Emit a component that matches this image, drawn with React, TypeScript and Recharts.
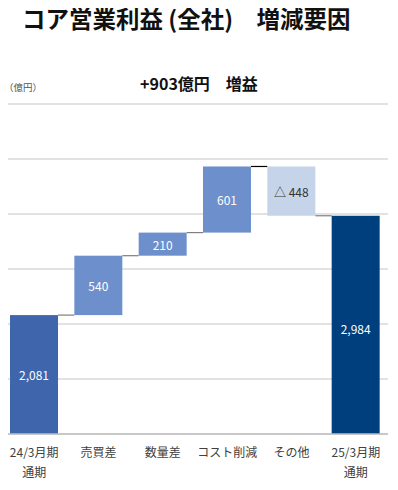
import { Bar, BarChart, CartesianGrid, LabelList, XAxis, YAxis } from 'recharts';

// Waterfall: start total, four factors, end total (億円)
const CATEGORIES = ['24/3月期\n通期', '売買差', '数量差', 'コスト削減', 'その他', '25/3月期\n通期'];
const START_TOTAL = 2081;
const DELTAS = [540, 210, 601, -448];
const END_TOTAL = 2984;
const VALUE_LABELS = ['2,081', '540', '210', '601', '△ 448', '2,984'];
const BAR_COLORS = ['#3f66ad', '#6d8fcb', '#6d8fcb', '#6d8fcb', '#c6d4ea', '#003f7d'];
const Y_TICKS = [1000, 1500, 2000, 2500, 3000, 3500, 4000];

const AXIS_MIN = Y_TICKS[0];
const AXIS_MAX = Y_TICKS[Y_TICKS.length - 1];

const CHART_W = 398;
const CHART_H = 490;
const MARGIN = { top: 104, right: 10, bottom: 16, left: 2 };
const BAR_SIZE = 48;
const BAND = (CHART_W - MARGIN.left - MARGIN.right) / CATEGORIES.length;
const GAP = BAND - BAR_SIZE;

function buildRows() {
  const rows = [];
  rows.push({ name: CATEGORIES[0], range: [AXIS_MIN, START_TOTAL], label: VALUE_LABELS[0], down: false });
  let level = START_TOTAL;
  DELTAS.forEach((d, i) => {
    const next = level + d;
    rows.push({
      name: CATEGORIES[i + 1],
      range: [Math.min(level, next), Math.max(level, next)],
      label: VALUE_LABELS[i + 1],
      down: d < 0,
    });
    level = next;
  });
  rows.push({ name: CATEGORIES[5], range: [AXIS_MIN, END_TOTAL], label: VALUE_LABELS[5], down: false });
  return rows;
}

const data = buildRows();

const font = '"Noto Sans CJK JP", "Noto Sans", sans-serif';

function WaterfallBar(props: any) {
  const { x, y, width, height, index, payload } = props;
  const top = Math.min(y, y + height);
  const h = Math.abs(height);
  const endY = payload.down ? top + h : top;
  const last = index === data.length - 1;
  return (
    <g>
      <rect x={x} y={top} width={width} height={h} fill={BAR_COLORS[index]} />
      {!last && (
        <line
          x1={x + width}
          x2={x + width + GAP}
          y1={endY}
          y2={endY}
          stroke={index === 3 ? '#000' : '#7f7f7f'}
          strokeWidth={1.2}
        />
      )}
    </g>
  );
}

function ValueLabel(props: any) {
  const { x, y, width, height, value, index } = props;
  const dark = String(value).startsWith('△');
  // totals sit a little below centre in the original
  const shift = index === data.length - 1 ? 4 : 0;
  return (
    <text
      x={x + width / 2}
      y={y + height / 2 + shift}
      textAnchor="middle"
      dominantBaseline="central"
      fontSize={12}
      fontFamily={font}
      fill={dark ? '#333' : '#fff'}
    >
      {value}
    </text>
  );
}

function CategoryTick(props: any) {
  const { x, y, payload } = props;
  const lines = String(payload.value).split('\n');
  return (
    <text x={x} y={y + 15} textAnchor="middle" fontSize={12} fontFamily={font} fill="#404040">
      {lines.map((l, i) => (
        <tspan key={i} x={x} dy={i === 0 ? 0 : 20}>
          {l}
        </tspan>
      ))}
    </text>
  );
}

export default function App() {
  return (
    <div style={{ position: 'relative', margin: -8, width: CHART_W, height: CHART_H, background: '#fff', fontFamily: font }}>
      <div
        style={{
          position: 'absolute',
          left: 22,
          top: 3,
          fontSize: 23.5,
          fontWeight: 700,
          color: '#111',
          whiteSpace: 'nowrap',
          lineHeight: '30px',
        }}
      >
        コア営業利益 (全社)　増減要因
      </div>
      <div
        style={{
          position: 'absolute',
          left: 0,
          width: CHART_W,
          top: 72,
          textAlign: 'center',
          fontSize: 16,
          fontWeight: 700,
          color: '#111',
          lineHeight: '22px',
        }}
      >
        +903億円　増益
      </div>
      <div style={{ position: 'absolute', left: 4, top: 80, fontSize: 9.5, color: '#555', lineHeight: '14px', whiteSpace: 'nowrap' }}>
        （億円）
      </div>
      <div style={{ position: 'absolute', left: 0, top: 0 }}>
        <BarChart width={CHART_W} height={CHART_H} data={data} margin={MARGIN} barSize={BAR_SIZE}>
          <CartesianGrid horizontal vertical={false} stroke="#d9d9d9" strokeWidth={1.5} />
          <XAxis
            dataKey="name"
            interval={0}
            height={40}
            tickLine={false}
            axisLine={{ stroke: '#bfbfbf', strokeWidth: 1.5 }}
            tick={<CategoryTick />}
          />
          <YAxis hide domain={[AXIS_MIN, AXIS_MAX]} ticks={Y_TICKS} allowDataOverflow />
          <Bar dataKey="range" isAnimationActive={false} shape={<WaterfallBar />}>
            <LabelList dataKey="label" content={<ValueLabel />} />
          </Bar>
        </BarChart>
      </div>
    </div>
  );
}
